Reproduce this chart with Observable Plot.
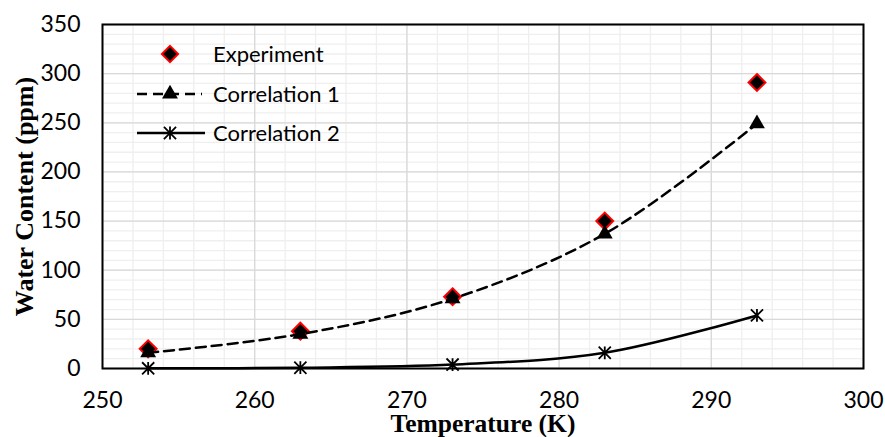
<!DOCTYPE html>
<html>
<head>
<meta charset="utf-8">
<script src="https://cdn.jsdelivr.net/npm/d3@7"></script>
<script src="https://cdn.jsdelivr.net/npm/@observablehq/plot@0.6"></script>
<style>
  html, body { margin: 0; padding: 0; background: white; }
  #wrap { position: relative; width: 885px; height: 437px; }
  #legend { position: absolute; left: 0; top: 0; pointer-events: none; }
</style>
</head>
<body>
<div id="wrap"></div>
<script>
// ---- data ----
const temperatures = [253, 263, 273, 283, 293];
const experiment   = [20, 38, 73, 150, 291];
const correlation1 = [16, 35, 71, 137, 249];
const correlation2 = [0.2, 0.8, 4, 16, 54];
const xTicks = [250, 260, 270, 280, 290, 300];
const yTicks = [0, 50, 100, 150, 200, 250, 300, 350];
const seriesNames = ["Experiment", "Correlation 1", "Correlation 2"];
const xTitle = "Temperature (K)";
const yTitle = "Water Content (ppm)";

const rows = temperatures.map((t, i) => ({T: t, exp: experiment[i], c1: correlation1[i], c2: correlation2[i]}));

// Excel-like star marker: vertical bar plus an X
const excelStar = {
  draw(ctx, size) {
    const r = Math.sqrt(size) * 0.6;
    const d = r * 0.95;
    ctx.moveTo(0, -r); ctx.lineTo(0, r);
    ctx.moveTo(-d, -d); ctx.lineTo(d, d);
    ctx.moveTo(-d, d); ctx.lineTo(d, -d);
  }
};

const minorX = d3.range(250, 301, 2);
const minorY = d3.range(0, 351, 10);

const chart = Plot.plot({
  width: 885,
  height: 437,
  marginLeft: 102,
  marginRight: 22,
  marginTop: 24,
  marginBottom: 69,
  x: {domain: [250, 300]},
  y: {domain: [0, 350]},
  style: {fontFamily: "Lato", fontSize: "23px", color: "black", background: "white"},
  marks: [
    Plot.gridX(minorX, {stroke: "#efefef", strokeOpacity: 1, strokeWidth: 1.3}),
    Plot.gridY(minorY, {stroke: "#efefef", strokeOpacity: 1, strokeWidth: 1.3}),
    Plot.gridX(xTicks, {stroke: "#d9d9d9", strokeOpacity: 1, strokeWidth: 1.3}),
    Plot.gridY(yTicks, {stroke: "#d9d9d9", strokeOpacity: 1, strokeWidth: 1.3}),
    Plot.axisX({ticks: xTicks, tickSize: 0, tickPadding: 23, label: null}),
    Plot.axisY({ticks: yTicks, tickSize: 0, tickPadding: 22, label: null}),
    Plot.text([xTitle], {frameAnchor: "bottom", textAnchor: "middle", lineAnchor: "middle", dy: 55.5, fontFamily: "Liberation Serif", fontWeight: "bold", fontSize: 25.5, text: d => d}),
    Plot.text([yTitle], {frameAnchor: "left", textAnchor: "middle", lineAnchor: "middle", dx: -78, rotate: -90, fontFamily: "Liberation Serif", fontWeight: "bold", fontSize: 26, text: d => d}),
    Plot.dot(rows, {x: "T", y: "exp", symbol: "diamond2", r: 7.6, fill: "black", stroke: "red", strokeWidth: 2}),
    Plot.line(rows, {x: "T", y: "c2", curve: "catmull-rom", stroke: "black", strokeWidth: 2.5}),
    Plot.dot(rows, {x: "T", y: "c2", symbol: excelStar, r: 6, fill: "none", stroke: "black", strokeWidth: 1.8}),
    Plot.line(rows, {x: "T", y: "c1", curve: "catmull-rom", stroke: "black", strokeWidth: 2.5, strokeDasharray: "10,6"}),
    Plot.dot(rows, {x: "T", y: "c1", symbol: "triangle", r: 5.9, fill: "black", stroke: "none"}),
    Plot.frame({stroke: "black", strokeWidth: 2})
  ]
});

const wrap = document.getElementById("wrap");
wrap.appendChild(chart);

// ---- legend overlay (inside plot area, top-left) ----
const lg = d3.select(wrap).append("svg")
  .attr("id", "legend").attr("width", 885).attr("height", 437);
const rowY = [54, 94, 133];
const symX = 170, textX = 213;
const sym = (type, r) => d3.symbol(type, Math.PI * r * r)();

// Experiment
lg.append("path").attr("d", sym(d3.symbolDiamond2, 7.3))
  .attr("transform", `translate(${symX},${rowY[0]})`)
  .attr("fill", "black").attr("stroke", "red").attr("stroke-width", 2);
// Correlation 1
lg.append("line").attr("x1", 137).attr("x2", 202).attr("y1", rowY[1]).attr("y2", rowY[1])
  .attr("stroke", "black").attr("stroke-width", 2.5).attr("stroke-dasharray", "10,6");
lg.append("path").attr("d", sym(d3.symbolTriangle, 5.9))
  .attr("transform", `translate(${symX},${rowY[1]})`).attr("fill", "black");
// Correlation 2
lg.append("line").attr("x1", 137).attr("x2", 205).attr("y1", rowY[2]).attr("y2", rowY[2])
  .attr("stroke", "black").attr("stroke-width", 2.5);
lg.append("path").attr("d", sym(excelStar, 6))
  .attr("transform", `translate(${symX},${rowY[2]})`)
  .attr("fill", "none").attr("stroke", "black").attr("stroke-width", 1.8);

seriesNames.forEach((name, i) => {
  lg.append("text").attr("x", textX).attr("y", rowY[i]).attr("dy", "0.35em")
    .attr("font-family", "Lato").attr("font-size", 22).attr("fill", "black").text(name);
});
</script>
</body>
</html>
